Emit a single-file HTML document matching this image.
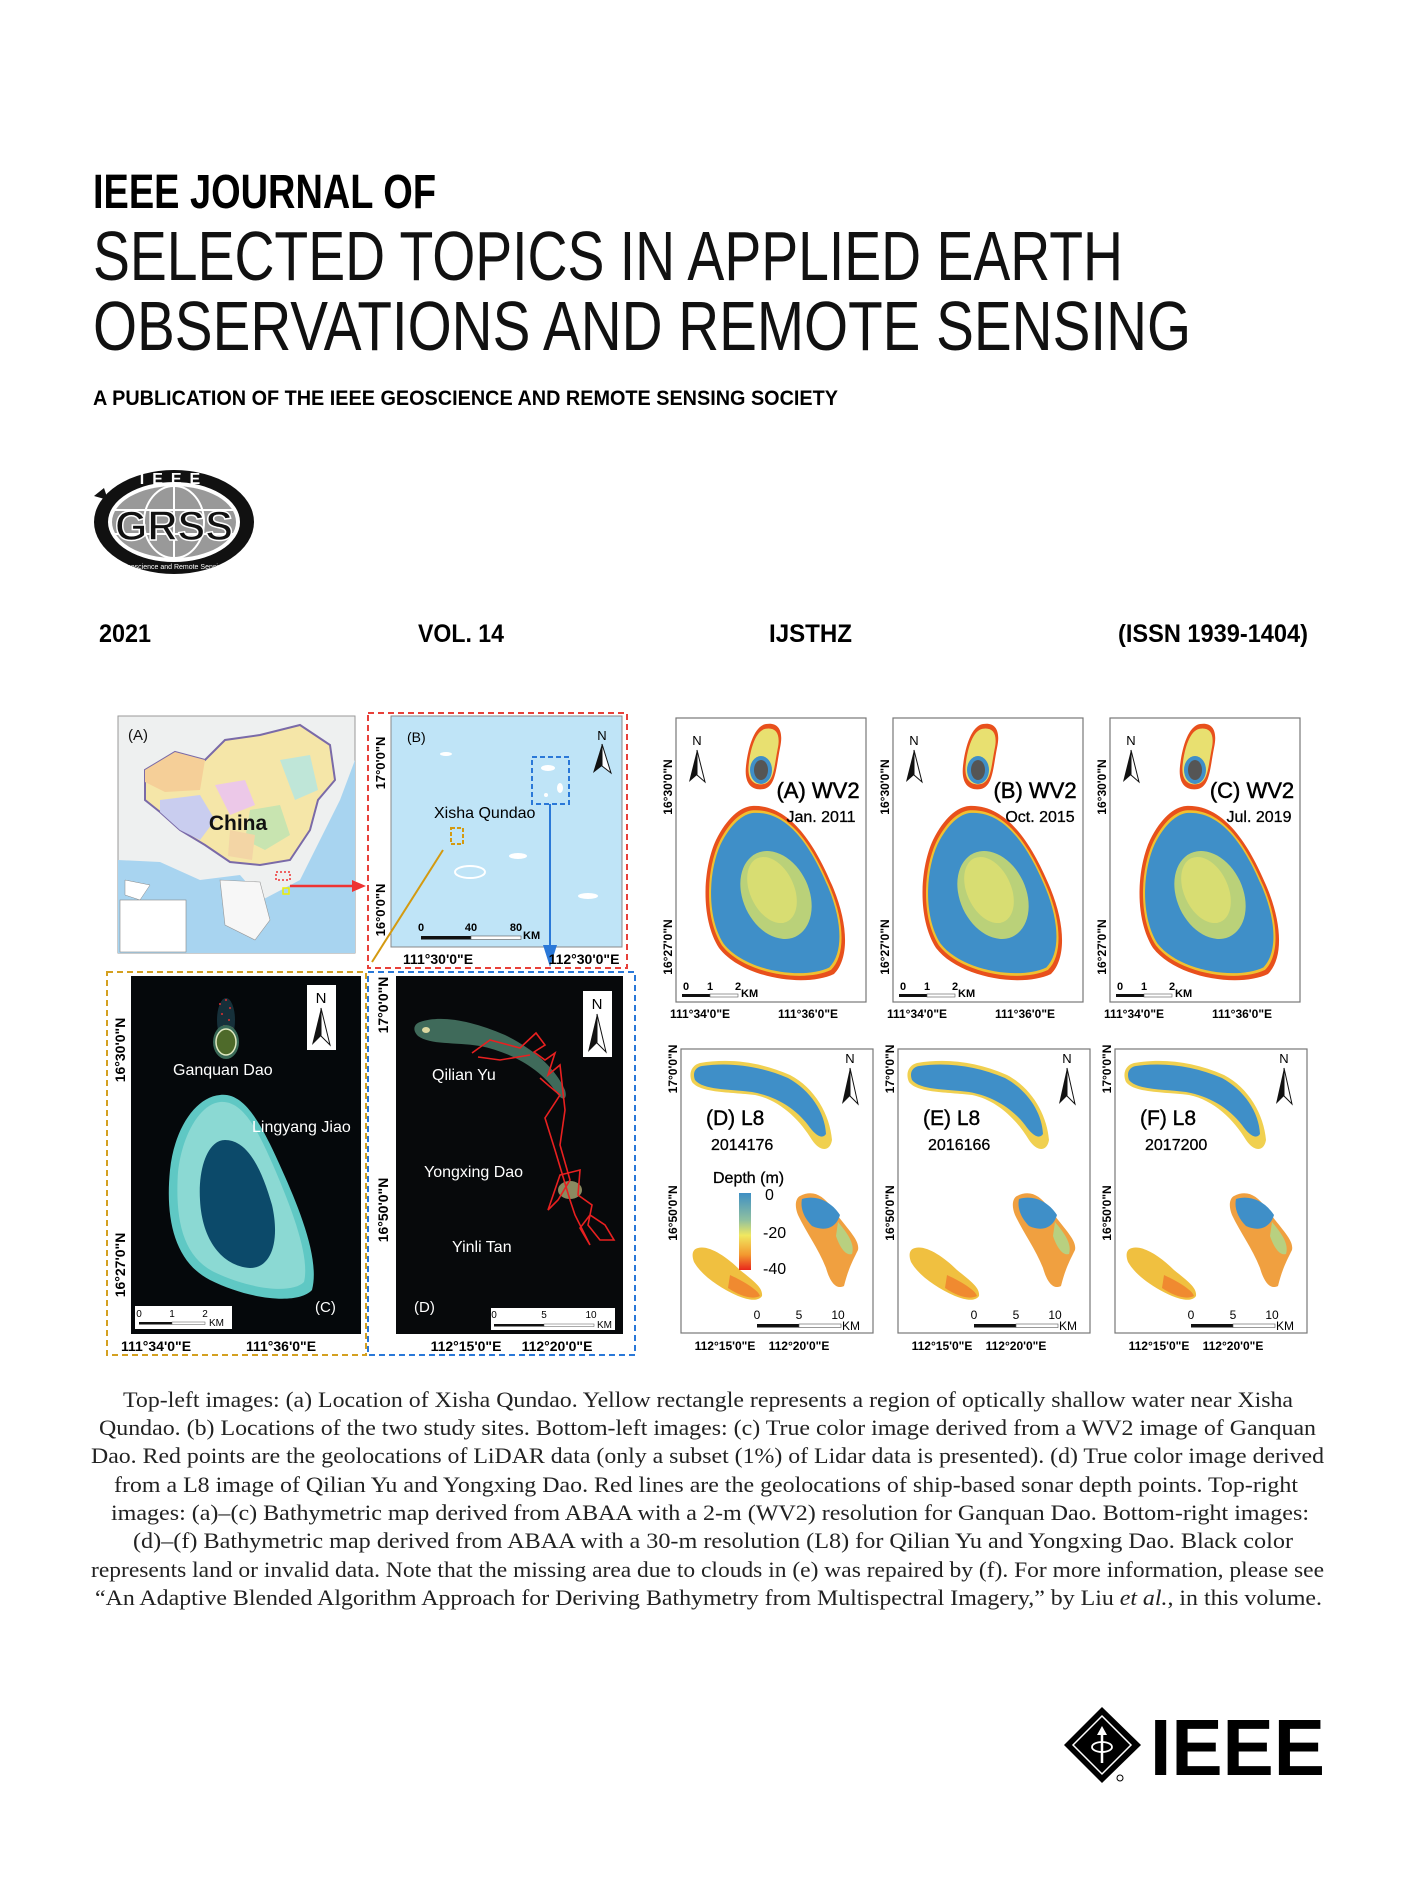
<!DOCTYPE html>
<html><head><meta charset="utf-8"><style>
html,body{margin:0;padding:0;background:#fff;}
svg{display:block;}
.s{font-family:"Liberation Sans",sans-serif;}
.b{font-family:"Liberation Sans",sans-serif;font-weight:bold;}
.t{font-family:"Liberation Serif",serif;font-size:22px;fill:#222;}
</style></head><body>
<svg width="1425" height="1900" viewBox="0 0 1425 1900" xmlns="http://www.w3.org/2000/svg">
<defs>
<linearGradient id="cb" x1="0" y1="0" x2="0" y2="1">
<stop offset="0" stop-color="#3f8fc4"/><stop offset="0.35" stop-color="#8fc0a0"/><stop offset="0.55" stop-color="#f0e860"/><stop offset="0.8" stop-color="#f39a30"/><stop offset="1" stop-color="#e8261c"/></linearGradient>
<path id="atoll" d="M752,806 C790,804 815,845 832,885 C848,922 850,958 834,974 C805,988 742,978 719,948 C700,918 703,868 716,840 C727,818 740,807 752,806 Z"/>
<path id="isl" d="M766,724 C778,722 784,730 780,748 C776,768 776,786 764,789 C752,791 744,784 746,766 C748,748 754,726 766,724 Z"/>
<g id="wv">
<rect x="676" y="718" width="190" height="284" fill="#fff" stroke="#777" stroke-width="1.2"/>
<use href="#atoll" fill="#e8501c"/>
<g transform="translate(775,892) scale(0.95) translate(-775,-892)"><use href="#atoll" fill="#f0c030"/></g>
<g transform="translate(775,892) scale(0.92) translate(-775,-892)"><use href="#atoll" fill="#3f8fc8"/></g>
<ellipse cx="776" cy="895" rx="33" ry="46" transform="rotate(-25 776 895)" fill="#c8d870" opacity="0.9"/>
<ellipse cx="772" cy="890" rx="22" ry="35" transform="rotate(-25 772 890)" fill="#e0e070" opacity="0.8"/>
<use href="#isl" fill="#e8501c"/>
<g transform="translate(764,756) scale(0.85) translate(-764,-756)"><use href="#isl" fill="#e8e070"/></g>
<ellipse cx="761" cy="770" rx="11" ry="14" fill="#3f8fc8"/>
<ellipse cx="761" cy="770" rx="7" ry="10" fill="#555"/>
<text x="697" y="745" class="s" font-size="13" text-anchor="middle">N</text>
<path d="M697,750 L689,782 L697,775 Z" fill="#111"/><path d="M697,750 L705,782 L697,775 Z" fill="#fff" stroke="#111" stroke-width="1"/>
<rect x="682" y="994" width="28" height="3" fill="#111"/><rect x="710" y="994" width="28" height="3" fill="#fff" stroke="#555" stroke-width="0.6"/>
<text x="683" y="990" class="b" font-size="11">0</text><text x="707" y="990" class="b" font-size="11">1</text><text x="735" y="990" class="b" font-size="11">2</text><text x="741" y="997" class="b" font-size="11">KM</text>
<text x="700" y="1018" class="b" font-size="12" text-anchor="middle">111°34'0"E</text>
<text x="808" y="1018" class="b" font-size="12" text-anchor="middle">111°36'0"E</text>
<text transform="translate(672,787) rotate(-90)" class="b" font-size="12" text-anchor="middle">16°30'0"N</text>
<text transform="translate(672,947) rotate(-90)" class="b" font-size="12" text-anchor="middle">16°27'0"N</text>
</g>
<g id="l8">
<rect x="681" y="1049" width="192" height="284" fill="#fff" stroke="#777" stroke-width="1.2"/>
<path d="M700,1063 C730,1058 760,1062 790,1075 C815,1088 830,1115 832,1140 C830,1152 820,1152 812,1140 C800,1120 780,1100 755,1095 C730,1092 700,1093 692,1082 C688,1073 692,1065 700,1063 Z" fill="#f0d050"/>
<path d="M702,1066 C730,1062 760,1066 788,1078 C810,1090 825,1112 826,1134 C822,1140 815,1135 808,1125 C795,1108 775,1096 752,1092 C728,1089 703,1090 695,1080 C692,1072 696,1067 702,1066 Z" fill="#3f8fc8"/>
<path d="M800,1196 C812,1190 822,1194 832,1208 C848,1230 860,1240 858,1250 C852,1262 848,1270 844,1286 C836,1290 830,1282 826,1268 C818,1248 806,1232 798,1215 C794,1205 796,1198 800,1196 Z" fill="#f0a040"/>
<path d="M802,1199 C815,1195 830,1200 840,1215 C836,1228 825,1232 812,1226 C804,1218 800,1208 802,1199 Z" fill="#3f8fc8"/>
<path d="M838,1222 C848,1234 855,1244 852,1254 C846,1256 840,1248 836,1236 Z" fill="#b8d080"/>
<path d="M698,1248 C708,1245 725,1255 740,1270 C755,1282 763,1288 762,1296 C758,1302 748,1300 738,1296 C720,1288 702,1276 694,1262 C691,1254 693,1249 698,1248 Z" fill="#f0c040"/>
<path d="M730,1275 C745,1282 758,1290 760,1296 C752,1300 740,1296 728,1288 Z" fill="#f08a30"/>
<text x="850" y="1063" class="s" font-size="13" text-anchor="middle">N</text>
<path d="M850,1068 L842,1104 L850,1096 Z" fill="#111"/><path d="M850,1068 L858,1104 L850,1096 Z" fill="#fff" stroke="#111" stroke-width="1"/>
<rect x="757" y="1324" width="42" height="3.5" fill="#111"/><rect x="799" y="1324" width="42" height="3.5" fill="#fff" stroke="#555" stroke-width="0.6"/>
<text x="757" y="1319" class="s" font-size="12" text-anchor="middle">0</text><text x="799" y="1319" class="s" font-size="12" text-anchor="middle">5</text><text x="838" y="1319" class="s" font-size="12" text-anchor="middle">10</text><text x="842" y="1330" class="s" font-size="12">KM</text>
<text x="725" y="1350" class="b" font-size="12" text-anchor="middle">112°15'0"E</text>
<text x="799" y="1350" class="b" font-size="12" text-anchor="middle">112°20'0"E</text>
<text transform="translate(677,1069) rotate(-90)" class="b" font-size="12" text-anchor="middle">17°0'0"N</text>
<text transform="translate(677,1213) rotate(-90)" class="b" font-size="12" text-anchor="middle">16°50'0"N</text>
</g>
</defs>

<!-- Header -->
<text x="93" y="208" class="b" font-size="48" textLength="343" lengthAdjust="spacingAndGlyphs">IEEE JOURNAL OF</text>
<text x="93" y="280" class="s" font-size="70" textLength="1030" lengthAdjust="spacingAndGlyphs" fill="#111">SELECTED TOPICS IN APPLIED EARTH</text>
<text x="93" y="350" class="s" font-size="70" textLength="1098" lengthAdjust="spacingAndGlyphs" fill="#111">OBSERVATIONS AND REMOTE SENSING</text>
<text x="93" y="405" class="b" font-size="21" textLength="745" lengthAdjust="spacingAndGlyphs">A PUBLICATION OF THE IEEE GEOSCIENCE AND REMOTE SENSING SOCIETY</text>

<!-- GRSS logo -->
<ellipse cx="174" cy="522" rx="80" ry="52" fill="#111"/>
<ellipse cx="174" cy="522" rx="66" ry="40" fill="#fff"/>
<ellipse cx="174" cy="522" rx="62" ry="36" fill="#999"/>
<g stroke="#fff" stroke-width="2" fill="none">
<line x1="112" y1="510" x2="236" y2="510"/><line x1="112" y1="534" x2="236" y2="534"/>
<ellipse cx="174" cy="522" rx="30" ry="36"/><line x1="174" y1="486" x2="174" y2="558"/></g>
<text x="174" y="540" class="b" font-size="42" text-anchor="middle" fill="#111" stroke="#fff" stroke-width="1.5" textLength="118" lengthAdjust="spacingAndGlyphs">GRSS</text>
<text x="174" y="484" class="b" font-size="16" text-anchor="middle" fill="#fff" letter-spacing="8">IEEE</text>
<path d="M104,488 L94,496 L108,500 Z" fill="#111"/>
<text x="186" y="569" class="s" font-size="7" text-anchor="middle" fill="#fff">Geoscience and Remote Sensing Society</text>

<!-- years row -->
<text x="99" y="642" class="b" font-size="25" textLength="52" lengthAdjust="spacingAndGlyphs">2021</text>
<text x="418" y="642" class="b" font-size="25" textLength="86" lengthAdjust="spacingAndGlyphs">VOL. 14</text>
<text x="769" y="642" class="b" font-size="25" textLength="83" lengthAdjust="spacingAndGlyphs">IJSTHZ</text>
<text x="1118" y="642" class="b" font-size="25" textLength="190" lengthAdjust="spacingAndGlyphs">(ISSN 1939-1404)</text>

<!-- (A) China map -->
<rect x="118" y="716" width="237" height="237" fill="#eef0f0" stroke="#999"/>
<path d="M118,860 L160,862 L200,880 L240,875 L262,900 L300,880 L320,840 L340,800 L355,760 L355,953 L118,953 Z" fill="#a8d4f0"/>
<path d="M145,770 L175,752 L205,760 L225,740 L260,735 L300,725 L330,745 L335,780 L318,800 L310,830 L290,860 L260,865 L230,862 L205,845 L180,830 L160,812 L145,800 Z" fill="#f5e6a8" stroke="#7a6aa8" stroke-width="2"/>
<path d="M145,770 L175,752 L205,760 L200,790 L165,792 L145,782 Z" fill="#f5cf98"/>
<path d="M160,800 L200,795 L215,820 L200,840 L180,830 L160,812 Z" fill="#c9cdef"/>
<path d="M215,785 L245,780 L255,805 L230,815 Z" fill="#ecc8e8"/>
<path d="M250,810 L280,805 L290,835 L265,850 L245,840 Z" fill="#c8e4b0"/>
<path d="M280,760 L310,755 L318,790 L295,800 Z" fill="#bfe6d8"/>
<path d="M230,830 L255,835 L252,860 L228,856 Z" fill="#f3d5a5"/>
<path d="M125,880 L150,885 L140,900 L125,895 Z" fill="#fff" stroke="#888" stroke-width="0.5"/>
<path d="M220,880 L260,882 L270,920 L255,940 L225,925 Z" fill="#f7f7f7" stroke="#999" stroke-width="0.6"/>
<rect x="120" y="900" width="66" height="52" fill="#fff" stroke="#888" stroke-width="0.6"/>
<text x="128" y="740" class="s" font-size="15" fill="#111">(A)</text>
<text x="238" y="830" class="b" font-size="21" fill="#111" text-anchor="middle">China</text>
<rect x="276" y="872" width="14" height="8" fill="none" stroke="#e33" stroke-width="1.5" stroke-dasharray="2,2"/>
<rect x="283" y="888" width="6" height="6" fill="none" stroke="#ee0" stroke-width="1.5"/>
<line x1="290" y1="886" x2="358" y2="886" stroke="#e33" stroke-width="2.5"/>
<path d="M366,886 L352,880 L352,892 Z" fill="#e33"/>

<!-- (B) -->
<rect x="391" y="716" width="231" height="231" fill="#bfe4f7" stroke="#888"/>
<rect x="368" y="713" width="259" height="255" fill="none" stroke="#e8403a" stroke-width="2" stroke-dasharray="6,4"/>
<text x="407" y="742" class="s" font-size="14">(B)</text>
<text x="434" y="818" class="s" font-size="16">Xisha Qundao</text>
<rect x="532" y="757" width="37" height="47" fill="none" stroke="#2a78d8" stroke-width="2" stroke-dasharray="5,3"/>
<rect x="451" y="828" width="12" height="16" fill="none" stroke="#d49a10" stroke-width="2" stroke-dasharray="4,2"/>
<g fill="#fff"><ellipse cx="446" cy="754" rx="6" ry="2"/><ellipse cx="548" cy="768" rx="7" ry="3"/><ellipse cx="560" cy="788" rx="3" ry="5"/><ellipse cx="518" cy="856" rx="9" ry="3"/><ellipse cx="470" cy="872" rx="15" ry="6" fill="none" stroke="#fff" stroke-width="2"/><ellipse cx="588" cy="896" rx="10" ry="3"/><ellipse cx="546" cy="795" rx="2" ry="2"/></g>
<text x="602" y="740" class="s" font-size="13" text-anchor="middle">N</text>
<path d="M602,744 L593,773 L602,766 Z" fill="#111"/><path d="M602,744 L611,773 L602,766 Z" fill="#fff" stroke="#111"/>
<line x1="550" y1="804" x2="550" y2="955" stroke="#2a78d8" stroke-width="2"/>
<path d="M550,967 L543,945 L557,945 Z" fill="#2a78d8"/>
<line x1="443" y1="850" x2="372" y2="962" stroke="#d49a10" stroke-width="2"/>
<rect x="421" y="936" width="50" height="3.5" fill="#111"/><rect x="471" y="936" width="50" height="3.5" fill="#fff" stroke="#555" stroke-width="0.6"/>
<text x="421" y="931" class="b" font-size="11" text-anchor="middle">0</text><text x="471" y="931" class="b" font-size="11" text-anchor="middle">40</text><text x="516" y="931" class="b" font-size="11" text-anchor="middle">80</text><text x="523" y="939" class="b" font-size="11">KM</text>
<text x="438" y="964" class="b" font-size="14" text-anchor="middle">111°30'0"E</text>
<text x="584" y="964" class="b" font-size="14" text-anchor="middle">112°30'0"E</text>
<text transform="translate(385,763) rotate(-90)" class="b" font-size="13" text-anchor="middle">17°0'0"N</text>
<text transform="translate(385,910) rotate(-90)" class="b" font-size="13" text-anchor="middle">16°0'0"N</text>

<!-- (C) -->
<rect x="107" y="972" width="259" height="383" fill="none" stroke="#d4a020" stroke-width="2" stroke-dasharray="6,4"/>
<rect x="131" y="976" width="230" height="358" fill="#05080b"/>
<ellipse cx="226" cy="1020" rx="9" ry="22" fill="#16303a"/>
<g fill="#e03030"><circle cx="226" cy="1000" r="1"/><circle cx="230" cy="1008" r="1"/><circle cx="222" cy="1014" r="1"/><circle cx="229" cy="1020" r="1"/><circle cx="224" cy="1026" r="1"/><circle cx="232" cy="1028" r="1"/><circle cx="220" cy="1004" r="1"/></g>
<ellipse cx="226" cy="1042" rx="13" ry="17" fill="#3a6a58"/>
<ellipse cx="226" cy="1042" rx="10" ry="13" fill="#4e6a2a" stroke="#dfe8c0" stroke-width="1.5"/>
<path d="M220,1095 C245,1092 262,1125 282,1170 C300,1210 320,1260 312,1290 C298,1305 250,1300 210,1280 C175,1262 165,1220 170,1170 C174,1130 195,1097 220,1095 Z" fill="#5fc8c4"/>
<path d="M220,1102 C243,1100 258,1130 276,1172 C293,1212 310,1258 304,1282 C292,1294 252,1290 214,1272 C182,1256 175,1218 178,1172 C182,1135 200,1104 220,1102 Z" fill="#a8e4de" opacity="0.6"/>
<path d="M225,1140 C248,1140 262,1170 272,1205 C280,1240 272,1268 250,1268 C222,1266 202,1240 200,1200 C198,1168 208,1140 225,1140 Z" fill="#0c4a6a"/>
<text x="173" y="1075" class="s" font-size="16" fill="#fff">Ganquan Dao</text>
<text x="252" y="1132" class="s" font-size="16" fill="#fff">Lingyang Jiao</text>
<rect x="135" y="1306" width="97" height="23" fill="#fff"/>
<rect x="139" y="1322" width="33" height="2.5" fill="#111"/><rect x="172" y="1322" width="33" height="2.5" fill="#fff" stroke="#555" stroke-width="0.5"/>
<text x="139" y="1317" class="s" font-size="10" text-anchor="middle">0</text><text x="172" y="1317" class="s" font-size="10" text-anchor="middle">1</text><text x="205" y="1317" class="s" font-size="10" text-anchor="middle">2</text><text x="209" y="1326" class="s" font-size="10">KM</text>
<text x="315" y="1312" class="s" font-size="15" fill="#fff">(C)</text>
<rect x="307" y="985" width="29" height="65" fill="#fff"/>
<text x="321" y="1003" class="s" font-size="15" text-anchor="middle">N</text>
<path d="M321,1008 L312,1045 L321,1036 Z" fill="#111"/><path d="M321,1008 L330,1045 L321,1036 Z" fill="#fff" stroke="#111"/>
<text x="156" y="1351" class="b" font-size="14" text-anchor="middle">111°34'0"E</text>
<text x="281" y="1351" class="b" font-size="14" text-anchor="middle">111°36'0"E</text>
<text transform="translate(125,1050) rotate(-90)" class="b" font-size="14" text-anchor="middle">16°30'0"N</text>
<text transform="translate(125,1265) rotate(-90)" class="b" font-size="14" text-anchor="middle">16°27'0"N</text>

<!-- (D) -->
<rect x="368" y="972" width="267" height="383" fill="none" stroke="#2a78d8" stroke-width="2" stroke-dasharray="6,4"/>
<rect x="396" y="976" width="227" height="358" fill="#07090b"/>
<path d="M420,1022 C440,1015 470,1020 505,1035 C535,1050 555,1068 565,1090 C568,1100 562,1102 556,1092 C540,1068 510,1052 480,1046 C455,1042 430,1045 418,1036 C412,1030 414,1024 420,1022 Z" fill="#3f6a5a"/>
<ellipse cx="426" cy="1030" rx="4" ry="3" fill="#dcd8a0"/>
<ellipse cx="570" cy="1190" rx="12" ry="9" fill="#8a8a60"/>
<polyline points="472,1053 490,1040 520,1048 536,1033 545,1045 534,1052 545,1060 555,1053 548,1075 560,1065 565,1110 560,1145 570,1180 558,1200 548,1210 560,1175 580,1170 578,1195 592,1205 588,1225 600,1240 614,1240 605,1225 590,1215 580,1228 590,1245 575,1215 570,1200 555,1150 545,1118 560,1095 548,1085 540,1078" fill="none" stroke="#e82020" stroke-width="1.6"/>
<polyline points="478,1057 500,1060 530,1055" fill="none" stroke="#e82020" stroke-width="1.6"/>
<text x="432" y="1080" class="s" font-size="16" fill="#fff">Qilian Yu</text>
<text x="424" y="1177" class="s" font-size="16" fill="#fff">Yongxing Dao</text>
<text x="452" y="1252" class="s" font-size="16" fill="#fff">Yinli Tan</text>
<text x="414" y="1312" class="s" font-size="15" fill="#fff">(D)</text>
<rect x="491" y="1308" width="124" height="22" fill="#fff"/>
<rect x="494" y="1324" width="50" height="2.5" fill="#111"/><rect x="544" y="1324" width="50" height="2.5" fill="#fff" stroke="#555" stroke-width="0.5"/>
<text x="494" y="1318" class="s" font-size="10" text-anchor="middle">0</text><text x="544" y="1318" class="s" font-size="10" text-anchor="middle">5</text><text x="591" y="1318" class="s" font-size="10" text-anchor="middle">10</text><text x="597" y="1328" class="s" font-size="10">KM</text>
<rect x="583" y="991" width="29" height="66" fill="#fff"/>
<text x="597" y="1009" class="s" font-size="15" text-anchor="middle">N</text>
<path d="M597,1014 L588,1052 L597,1043 Z" fill="#111"/><path d="M597,1014 L606,1052 L597,1043 Z" fill="#fff" stroke="#111"/>
<text x="466" y="1351" class="b" font-size="14" text-anchor="middle">112°15'0"E</text>
<text x="557" y="1351" class="b" font-size="14" text-anchor="middle">112°20'0"E</text>
<text transform="translate(388,1005) rotate(-90)" class="b" font-size="14" text-anchor="middle">17°0'0"N</text>
<text transform="translate(388,1210) rotate(-90)" class="b" font-size="14" text-anchor="middle">16°50'0"N</text>

<!-- WV2 panels -->
<use href="#wv"/>
<use href="#wv" transform="translate(217,0)"/>
<use href="#wv" transform="translate(434,0)"/>
<text x="818" y="798" class="s" font-size="22" text-anchor="middle" stroke="#000" stroke-width="0.5">(A) WV2</text>
<text x="821" y="822" class="s" font-size="16" text-anchor="middle" stroke="#000" stroke-width="0.3">Jan. 2011</text>
<text x="1035" y="798" class="s" font-size="22" text-anchor="middle" stroke="#000" stroke-width="0.5">(B) WV2</text>
<text x="1040" y="822" class="s" font-size="16" text-anchor="middle" stroke="#000" stroke-width="0.3">Oct. 2015</text>
<text x="1252" y="798" class="s" font-size="22" text-anchor="middle" stroke="#000" stroke-width="0.5">(C) WV2</text>
<text x="1259" y="822" class="s" font-size="16" text-anchor="middle" stroke="#000" stroke-width="0.3">Jul. 2019</text>

<!-- L8 panels -->
<use href="#l8"/>
<use href="#l8" transform="translate(217,0)"/>
<use href="#l8" transform="translate(434,0)"/>
<text x="706" y="1125" class="s" font-size="21" stroke="#000" stroke-width="0.4">(D) L8</text>
<text x="711" y="1150" class="s" font-size="16" stroke="#000" stroke-width="0.3">2014176</text>
<text x="923" y="1125" class="s" font-size="21" stroke="#000" stroke-width="0.4">(E) L8</text>
<text x="928" y="1150" class="s" font-size="16" stroke="#000" stroke-width="0.3">2016166</text>
<text x="1140" y="1125" class="s" font-size="21" stroke="#000" stroke-width="0.4">(F) L8</text>
<text x="1145" y="1150" class="s" font-size="16" stroke="#000" stroke-width="0.3">2017200</text>
<text x="713" y="1183" class="s" font-size="16" stroke="#000" stroke-width="0.3">Depth (m)</text>
<rect x="739" y="1193" width="12" height="77" fill="url(#cb)"/>
<text x="765" y="1200" class="s" font-size="16">0</text>
<text x="763" y="1238" class="s" font-size="16">-20</text>
<text x="763" y="1274" class="s" font-size="16">-40</text>

<!-- Caption -->
<text x="123" y="1407" class="t" textLength="1170" lengthAdjust="spacingAndGlyphs">Top-left images: (a) Location of Xisha Qundao. Yellow rectangle represents a region of optically shallow water near Xisha</text>
<text x="99" y="1435" class="t" textLength="1217" lengthAdjust="spacingAndGlyphs">Qundao. (b) Locations of the two study sites. Bottom-left images: (c) True color image derived from a WV2 image of Ganquan</text>
<text x="91" y="1463" class="t" textLength="1233" lengthAdjust="spacingAndGlyphs">Dao. Red points are the geolocations of LiDAR data (only a subset (1%) of Lidar data is presented). (d) True color image derived</text>
<text x="114" y="1492" class="t" textLength="1184" lengthAdjust="spacingAndGlyphs">from a L8 image of Qilian Yu and Yongxing Dao. Red lines are the geolocations of ship-based sonar depth points. Top-right</text>
<text x="111" y="1520" class="t" textLength="1198" lengthAdjust="spacingAndGlyphs">images: (a)–(c) Bathymetric map derived from ABAA with a 2-m (WV2) resolution for Ganquan Dao. Bottom-right images:</text>
<text x="133" y="1548" class="t" textLength="1160" lengthAdjust="spacingAndGlyphs">(d)–(f) Bathymetric map derived from ABAA with a 30-m resolution (L8) for Qilian Yu and Yongxing Dao. Black color</text>
<text x="91" y="1577" class="t" textLength="1233" lengthAdjust="spacingAndGlyphs">represents land or invalid data. Note that the missing area due to clouds in (e) was repaired by (f). For more information, please see</text>
<text x="95" y="1605" class="t" textLength="1227" lengthAdjust="spacingAndGlyphs">“An Adaptive Blended Algorithm Approach for Deriving Bathymetry from Multispectral Imagery,” by Liu <tspan font-style="italic">et al.</tspan>, in this volume.</text>

<!-- IEEE logo -->
<path d="M1102,1707 L1141,1745 L1102,1783 L1064,1745 Z" fill="#000"/>
<path d="M1102,1716 L1131,1745 L1102,1774 L1073,1745 Z" fill="none" stroke="#fff" stroke-width="1.5"/>
<line x1="1102" y1="1730" x2="1102" y2="1763" stroke="#fff" stroke-width="2.5"/>
<path d="M1102,1726 L1097,1735 L1107,1735 Z" fill="#fff"/>
<ellipse cx="1102" cy="1747" rx="10" ry="5" fill="none" stroke="#fff" stroke-width="1.8"/>
<circle cx="1120" cy="1778" r="3" fill="none" stroke="#000" stroke-width="1"/>
<text x="1150" y="1775" class="b" font-size="80" textLength="175" lengthAdjust="spacingAndGlyphs">IEEE</text>
</svg>
</body></html>
